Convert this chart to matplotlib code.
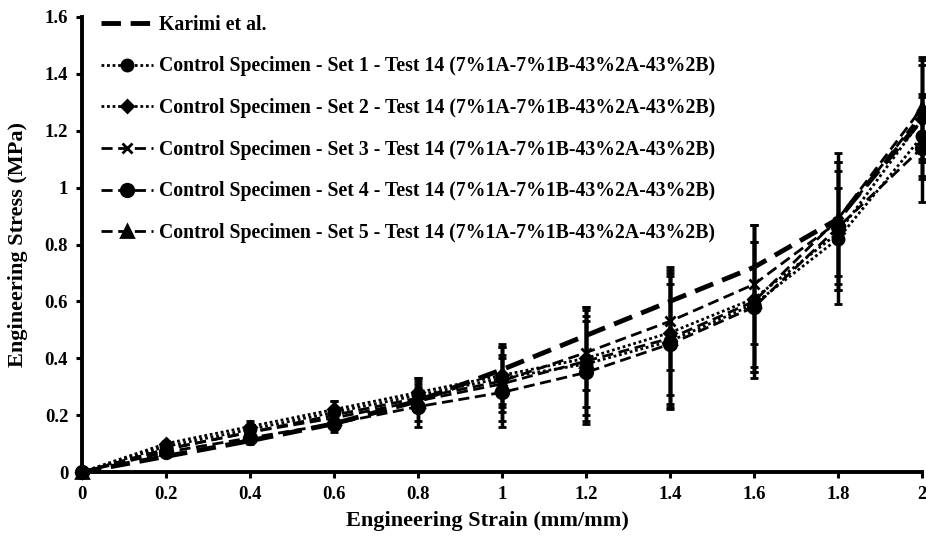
import matplotlib

matplotlib.use("Agg")
import matplotlib.pyplot as plt
from matplotlib.lines import Line2D

strain = [0, 0.2, 0.4, 0.6, 0.8, 1.0, 1.2, 1.4, 1.6, 1.8, 2.0]

karimi = [0, 0.055, 0.11, 0.17, 0.25, 0.36, 0.48, 0.60, 0.72, 0.89, 1.24]

set1 = [0, 0.09, 0.15, 0.21, 0.27, 0.33, 0.38, 0.46, 0.59, 0.82, 1.18]
set2 = [0, 0.10, 0.16, 0.22, 0.28, 0.34, 0.40, 0.49, 0.61, 0.84, 1.24]
set3 = [0, 0.08, 0.14, 0.20, 0.26, 0.32, 0.42, 0.53, 0.66, 0.88, 1.26]
set4 = [0, 0.07, 0.12, 0.17, 0.23, 0.28, 0.35, 0.45, 0.58, 0.86, 1.14]
set5 = [0, 0.08, 0.14, 0.19, 0.25, 0.31, 0.39, 0.47, 0.60, 0.89, 1.28]

err1 = [0, 0.01, 0.02, 0.04, 0.06, 0.12, 0.20, 0.23, 0.22, 0.18, 0.14]
err2 = [0, 0.01, 0.02, 0.03, 0.05, 0.10, 0.17, 0.22, 0.26, 0.25, 0.21]
err3 = [0, 0.01, 0.02, 0.03, 0.05, 0.09, 0.13, 0.17, 0.21, 0.24, 0.17]
err4 = [0, 0.01, 0.02, 0.03, 0.07, 0.12, 0.18, 0.21, 0.23, 0.20, 0.19]
err5 = [0, 0.01, 0.02, 0.04, 0.07, 0.13, 0.19, 0.25, 0.27, 0.20, 0.18]

label = "Control Specimen - Set {} - Test 14 (7%1A-7%1B-43%2A-43%2B)"

plt.rcParams['font.family'] = ['Liberation Serif', 'DejaVu Serif']
plt.rcParams['font.weight'] = 'bold'

fig = plt.figure(figsize=(9.26, 5.41), dpi=100)
ax = fig.add_axes([0.0886, 0.1275, 0.9071, 0.8411])

ax.plot(strain, karimi, color='black', lw=3.5, dashes=(4, 2),
        clip_on=False, zorder=4)
handles = [Line2D([], [], color='black', lw=3.5, dashes=(4, 2),
                  label="Karimi et al.")]

styles = [
    (set1, err1, (0, (1, 1)), 'o', 8),
    (set2, err2, (0, (1, 1)), 'D', 6),
    (set3, err3, (0, (4, 2)), 'x', 7),
    (set4, err4, (0, (4, 2)), 'o', 9),
    (set5, err5, (0, (4, 2)), '^', 8),
]
for i, (vals, errs, ls, mk, ms) in enumerate(styles):
    ax.errorbar(strain, vals, yerr=errs, color='black', lw=2, ls=ls,
                marker=mk, ms=ms, mew=2, elinewidth=2.5, capsize=3,
                capthick=2.5, clip_on=False, zorder=3)
    handles.append(Line2D([], [], color='black', lw=2, ls=ls, marker=mk,
                          ms=ms, mew=2, label=label.format(i + 1)))

ax.set_xlim(0, 2)
ax.set_ylim(0, 1.6)
ax.set_xticks(strain)
ax.set_xticklabels(['0', '0.2', '0.4', '0.6', '0.8', '1', '1.2', '1.4',
                    '1.6', '1.8', '2'])
ax.set_yticks([0, 0.2, 0.4, 0.6, 0.8, 1.0, 1.2, 1.4, 1.6])
ax.set_yticklabels(['0', '0.2', '0.4', '0.6', '0.8', '1', '1.2', '1.4', '1.6'])
ax.tick_params(labelsize=13.5, width=2.2, length=4, direction='out', pad=6)
for lab in ax.get_xticklabels() + ax.get_yticklabels():
    lab.set_fontweight('bold')

for side in ['top', 'right']:
    ax.spines[side].set_visible(False)
for side in ['left', 'bottom']:
    ax.spines[side].set_linewidth(2.8)

ax.set_xlabel("Engineering Strain (mm/mm)", fontsize=16, fontweight='bold')
ax.set_ylabel("Engineering Stress (MPa)", fontsize=16, fontweight='bold')
ax.xaxis.set_label_coords(0.483, -0.085)
ax.yaxis.set_label_coords(-0.064, 0.5)

leg = ax.legend(handles=handles, loc='upper left', frameon=False,
                fontsize=14.2, handlelength=2.6, labelspacing=1.1,
                handletextpad=0.3, bbox_to_anchor=(0.002, 1.044))

fig.savefig("out.png", dpi=100)
plt.close(fig)
